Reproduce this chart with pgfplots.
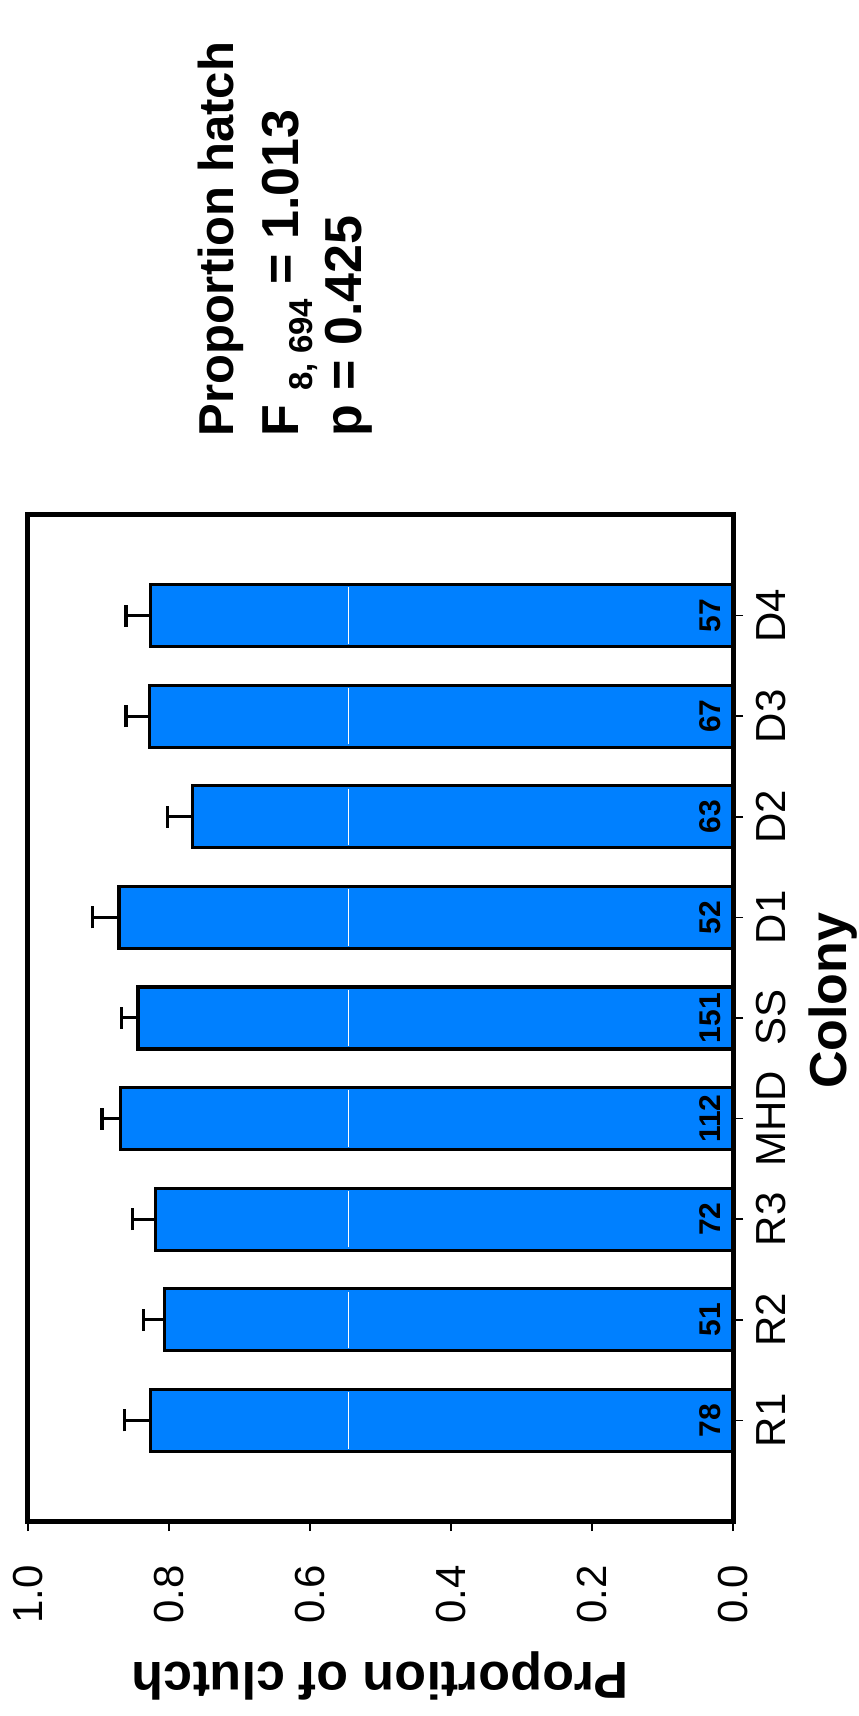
\documentclass[border=0pt]{standalone}
\usepackage{pgfplots}
\pgfplotsset{compat=1.18}
\usepackage{fontspec}
\setmainfont{Liberation Sans}
\definecolor{barblue}{RGB}{0,128,255}
\begin{document}
\begin{tikzpicture}
\begin{axis}[
  scale only axis, width=352.5pt, height=503pt,
  x dir=reverse, xmin=0, xmax=1, ymin=-1, ymax=9,
  xtick={0,0.2,0.4,0.6,0.8,1.0}, xticklabels={0.0,0.2,0.4,0.6,0.8,1.0},
  ytick={0,1,2,3,4,5,6,7,8}, yticklabels={R1,R2,R3,MHD,SS,D1,D2,D3,D4},
  xtick pos=bottom, ytick pos=right, yticklabel pos=right,
  tick align=outside, major tick length=5pt,
  tick style={line width=0.85pt, black},
  axis line style={line width=2.5pt},
  xticklabel style={font=\fontsize{21}{24}\selectfont, yshift=-17pt, rotate=90, anchor=east, inner sep=0pt},
  yticklabel style={font=\fontsize{21}{24}\selectfont, xshift=6.5pt, rotate=90, anchor=north, inner sep=0pt},
  xlabel={Proportion of clutch},
  xlabel style={font=\fontsize{26}{30}\selectfont\bfseries, at={(axis description cs:0.5,-0.154)}, anchor=center, rotate=180},
  ylabel={Colony},
  ylabel style={font=\fontsize{26}{30}\selectfont\bfseries, at={(axis description cs:1.1064,0.517)}, anchor=north, inner sep=0pt},
  bar width=0.616,
  clip=false,
]
\addplot[xbar, fill=barblue, draw=black, line width=1.6pt,
  error bars/.cd, x dir=plus, x explicit,
  error bar style={line width=1.5pt, black},
  error mark options={rotate=90, line width=1.6pt, mark size=5.5pt, black}]
coordinates {
  (0.826,0) +- (0.037,0)
  (0.806,1) +- (0.030,0)
  (0.819,2) +- (0.033,0)
  (0.869,3) +- (0.026,0)
  (0.844,4) +- (0.023,0)
  (0.871,5) +- (0.038,0)
  (0.767,6) +- (0.035,0)
  (0.828,7) +- (0.033,0)
  (0.826,8) +- (0.035,0)
};
\addplot[white, line width=0.6pt, unbounded coords=jump] coordinates {
  (0.545,-0.28) (0.545,0.28) (0.545,nan)
  (0.545,0.72) (0.545,1.28) (0.545,nan)
  (0.545,1.72) (0.545,2.28) (0.545,nan)
  (0.545,2.72) (0.545,3.28) (0.545,nan)
  (0.545,3.72) (0.545,4.28) (0.545,nan)
  (0.545,4.72) (0.545,5.28) (0.545,nan)
  (0.545,5.72) (0.545,6.28) (0.545,nan)
  (0.545,6.72) (0.545,7.28) (0.545,nan)
  (0.545,7.72) (0.545,8.28)
};
\addplot[draw=none, mark=none, nodes near coords, point meta=explicit symbolic,
  every node near coord/.append style={font=\fontsize{15}{18}\selectfont\bfseries, xshift=-6.5pt, rotate=90, anchor=base, inner sep=0pt}]
coordinates {
  (0,0) [78] (0,1) [51] (0,2) [72] (0,3) [112] (0,4) [151]
  (0,5) [52] (0,6) [63] (0,7) [67] (0,8) [57]
};
\end{axis}
\node[rotate=90, anchor=base west, inner sep=0pt, font=\fontsize{24.5}{28}\selectfont\bfseries] at (102.5pt,542pt) {Proportion hatch};
\node[rotate=90, anchor=base west, inner sep=0pt, font=\fontsize{26}{30}\selectfont\bfseries] at (135pt,542pt) {F \raisebox{-7pt}{\fontsize{16.5}{18}\selectfont 8, 694} = 1.013};
\node[rotate=90, anchor=base west, inner sep=0pt, font=\fontsize{26}{30}\selectfont\bfseries] at (166.5pt,542pt) {p = 0.425};
\pgfresetboundingbox
\path[use as bounding box] (-14pt,-97.5pt) rectangle (415pt,760.5pt);
\end{tikzpicture}
\end{document}
